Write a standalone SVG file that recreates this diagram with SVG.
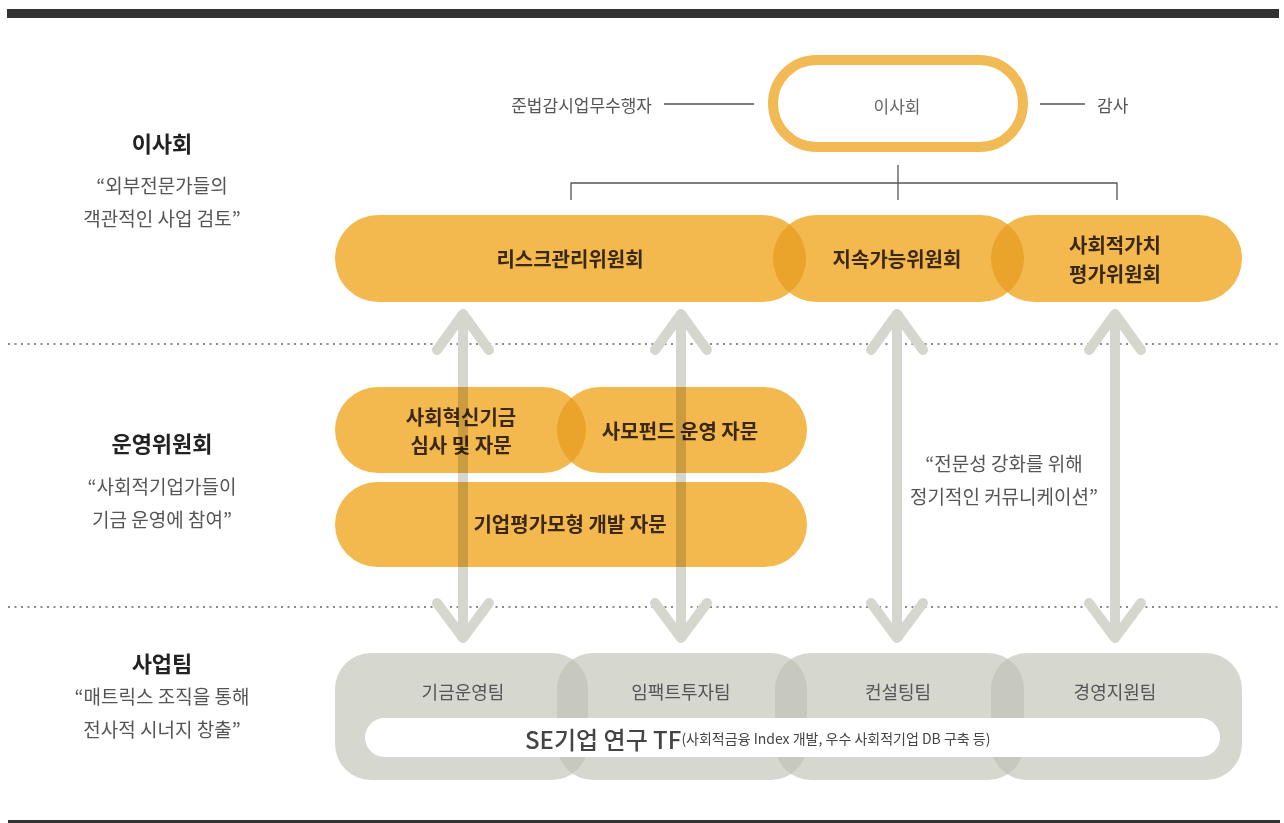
<svg xmlns="http://www.w3.org/2000/svg" width="1284" height="823" viewBox="0 0 1284 823">
<style>
text{font-family:"Noto Sans CJK KR","Noto Sans",sans-serif;dominant-baseline:central}
.hd{font-weight:700;font-size:22px;fill:#222;text-anchor:middle}
.qt{font-size:19px;fill:#555;text-anchor:middle}
.bx{fill:#F3B94F}
.ov{fill:#EAA32B}
.bt{font-weight:700;font-size:20px;fill:#3a2812;text-anchor:middle}
.tm{fill:#D6D7CE}
.tov{fill:#C8C9BE}
.tt{font-size:18px;fill:#555;text-anchor:middle}
.ln{stroke:#555;stroke-width:1.3;fill:none}
.dot{stroke:#8a8a8a;stroke-width:2;stroke-dasharray:2 4.5;fill:none}
.arr{stroke:#D5D6CE;stroke-width:10;stroke-linecap:round;stroke-linejoin:round;fill:none}
.knock{stroke:#fff;stroke-width:10;stroke-linecap:round;stroke-linejoin:round;fill:none}
.sm{font-size:17px;fill:#555}
</style>
<defs>
<rect id="b1" x="335" y="215" width="471" height="87" rx="43.5"/>
<rect id="b2" x="773" y="215" width="251" height="87" rx="43.5"/>
<rect id="b3" x="991" y="215" width="251" height="87" rx="43.5"/>
<rect id="m1" x="335" y="387" width="251" height="86" rx="43"/>
<rect id="m2" x="557" y="387" width="250" height="86" rx="43"/>
<rect id="t1" x="335" y="653" width="253" height="127" rx="36"/>
<rect id="t2" x="557" y="653" width="250" height="127" rx="36"/>
<rect id="t3" x="775" y="653" width="249" height="127" rx="36"/>
<rect id="t4" x="991" y="653" width="251" height="127" rx="36"/>
<clipPath id="cb1"><use href="#b1"/></clipPath>
<clipPath id="cb2"><use href="#b2"/></clipPath>
<clipPath id="cm1"><use href="#m1"/></clipPath>
<clipPath id="ct1"><use href="#t1"/></clipPath>
<clipPath id="ct2"><use href="#t2"/></clipPath>
<clipPath id="ct3"><use href="#t3"/></clipPath>
<g id="arrowshape">
<path d="M0,318 V633"/>
<path d="M-26,350 L0,314 L26,350"/>
<path d="M-26,603 L0,638 L26,603"/>
</g>
</defs>

<rect x="7" y="9" width="1272" height="9" fill="#333"/>
<rect x="8" y="820" width="1272" height="3" fill="#333"/>

<g id="section-labels">
<text class="hd" x="162" y="142">이사회</text>
<text class="qt" x="162" y="184">“외부전문가들의</text>
<text class="qt" x="162" y="217">객관적인 사업 검토”</text>
<text class="hd" x="162" y="442">운영위원회</text>
<text class="qt" x="162" y="485">“사회적기업가들이</text>
<text class="qt" x="162" y="518">기금 운영에 참여”</text>
<text class="hd" x="162" y="662">사업팀</text>
<text class="qt" x="162" y="695">“매트릭스 조직을 통해</text>
<text class="qt" x="162" y="728">전사적 시너지 창출”</text>
</g>

<g id="dividers">
<path class="dot" d="M8,344 H1280"/>
<path class="dot" d="M8,607 H1280"/>
</g>

<g id="arrow-knockout">
<use href="#arrowshape" class="knock" x="463"/>
<use href="#arrowshape" class="knock" x="681"/>
<use href="#arrowshape" class="knock" x="897"/>
<use href="#arrowshape" class="knock" x="1115"/>
</g>

<g id="board">
<rect x="773" y="60" width="250" height="87" rx="43.5" fill="#fff" stroke="#F2BA55" stroke-width="10"/>
<text x="897" y="105" font-size="17" fill="#666" text-anchor="middle">이사회</text>
</g>
<g id="compliance">
<text class="sm" x="652" y="104" text-anchor="end">준법감시업무수행자</text>
</g>
<g id="auditor">
<text class="sm" x="1097" y="104">감사</text>
</g>

<g id="committee-risk"><use href="#b1" class="bx"/><text class="bt" x="570" y="258">리스크관리위원회</text></g>
<g id="committee-sustain"><use href="#b2" class="bx"/><use href="#b2" class="ov" clip-path="url(#cb1)"/><text class="bt" x="897" y="258">지속가능위원회</text></g>
<g id="committee-social"><use href="#b3" class="bx"/><use href="#b3" class="ov" clip-path="url(#cb2)"/><text class="bt" x="1115" y="244">사회적가치</text><text class="bt" x="1115" y="273">평가위원회</text></g>

<g id="op-fund"><use href="#m1" class="bx"/><text class="bt" x="461" y="416" font-size="19">사회혁신기금</text><text class="bt" x="461" y="444" font-size="19">심사 및 자문</text></g>
<g id="op-pef"><use href="#m2" class="bx"/><use href="#m2" class="ov" clip-path="url(#cm1)"/><text class="bt" x="680" y="430">사모펀드 운영 자문</text></g>
<g id="op-model"><rect class="bx" x="335" y="482" width="472" height="85" rx="42.5"/><text class="bt" x="570" y="523">기업평가모형 개발 자문</text></g>

<g id="team-fund"><use href="#t1" class="tm"/><text class="tt" x="463" y="691">기금운영팀</text></g>
<g id="team-impact"><use href="#t2" class="tm"/><use href="#t2" class="tov" clip-path="url(#ct1)"/><text class="tt" x="681" y="691">임팩트투자팀</text></g>
<g id="team-consult"><use href="#t3" class="tm"/><use href="#t3" class="tov" clip-path="url(#ct2)"/><text class="tt" x="898" y="691">컨설팅팀</text></g>
<g id="team-support"><use href="#t4" class="tm"/><use href="#t4" class="tov" clip-path="url(#ct3)"/><text class="tt" x="1115" y="691">경영지원팀</text></g>
<g id="se-tf">
<rect x="365" y="718" width="855" height="39" rx="19.5" fill="#fff"/>
<text x="525" y="738" fill="#444"><tspan font-size="24" font-weight="500">SE기업 연구 TF</tspan><tspan font-size="14">(사회적금융 Index 개발, 우수 사회적기업 DB 구축 등)</tspan></text>
</g>

<g id="connectors">
<path class="ln" d="M664,104 H754"/>
<path class="ln" d="M1040,104 H1085"/>
<path class="ln" d="M571,200 V183 H1117 V200"/>
<path class="ln" d="M898,165 V200"/>
<g style="mix-blend-mode:multiply">
<use href="#arrowshape" class="arr" x="463"/>
<use href="#arrowshape" class="arr" x="681"/>
<use href="#arrowshape" class="arr" x="897"/>
<use href="#arrowshape" class="arr" x="1115"/>
</g>
</g>

<g id="note">
<text class="qt" x="1004" y="462">“전문성 강화를 위해</text>
<text class="qt" x="1004" y="495">정기적인 커뮤니케이션”</text>
</g>
</svg>
